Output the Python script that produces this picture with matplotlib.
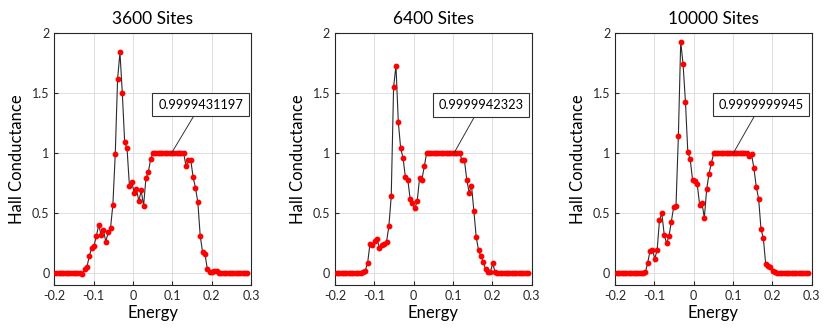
import numpy as np
import matplotlib
matplotlib.use("Agg")
import matplotlib.pyplot as plt

plt.rcParams['font.family'] = ['Lato', 'DejaVu Sans']

# energy grid shared by the three runs
energy = np.linspace(-0.195, 0.291, 82)

titles = ['3600 Sites', '6400 Sites', '10000 Sites']
labels = ['0.9999431197', '0.9999942323', '0.9999999945']

hall_3600 = [0] * 11 + [
    -0.005, 0.03, 0.05, 0.14, 0.21, 0.225, 0.31, 0.40, 0.32, 0.36,
    0.26, 0.34, 0.375, 0.57, 0.99, 1.62, 1.84, 1.5, 1.09, 1.04,
    0.73, 0.76, 0.67, 0.70, 0.60, 0.69, 0.56, 0.79, 0.84, 0.95,
] + [1.0] * 14 + [
    0.89, 0.94, 0.94, 0.80, 0.71, 0.59, 0.31, 0.175, 0.16, 0.036,
    0.01, 0.01, 0.017, 0.017,
] + [0] * 13

hall_6400 = [0] * 11 + [
    0.01, 0.02, 0.084, 0.245, 0.23, 0.27, 0.28, 0.21, 0.23, 0.245,
    0.26, 0.39, 0.64, 1.55, 1.73, 1.26, 1.04, 0.96, 0.80, 0.78,
    0.62, 0.58, 0.54, 0.60, 0.79, 0.78, 0.89,
] + [1.0] * 15 + [
    0.94, 0.94, 0.78, 0.67, 0.73, 0.52, 0.30, 0.19, 0.14, 0.09,
    0.03, 0.01, 0.01, 0.083, 0.005,
] + [0] * 14

hall_10000 = [0] * 12 + [
    0.005, 0.083, 0.186, 0.194, 0.12, 0.19, 0.44, 0.50, 0.32, 0.25,
    0.305, 0.425, 0.55, 0.56, 1.14, 1.93, 1.74, 1.43, 1.01, 0.95,
    0.78, 0.77, 0.74, 0.57, 0.585, 0.46, 0.70, 0.83, 0.92,
] + [1.0] * 15 + [
    0.98, 0.99, 0.875, 0.72, 0.62, 0.37, 0.29, 0.075, 0.06, 0.047,
    0.02, 0.008,
] + [0] * 14

series = [hall_3600, hall_6400, hall_10000]
tip_x = [0.098, 0.1025, 0.1007]   # where the data-tip points on the plateau
box_xy = [(0.172, 1.405), (0.171, 1.40), (0.171, 1.405)]

fig = plt.figure(figsize=(8.31, 3.33), dpi=100)
lefts = [0.0653, 0.4031, 0.7401]

for k in range(3):
    ax = fig.add_axes([lefts[k], 0.1441, 0.2367, 0.756])
    ax.plot(energy, series[k], color='#2b2b2b', linewidth=0.8,
            marker='o', markersize=3.2, markerfacecolor='red',
            markeredgecolor='red', zorder=3)
    ax.set_xlim(-0.2, 0.3)
    ax.set_ylim(-0.1, 2)
    ax.set_xticks([-0.2, -0.1, 0, 0.1, 0.2, 0.3])
    ax.set_xticklabels(['-0.2', '-0.1', '0', '0.1', '0.2', '0.3'])
    ax.set_yticks([0, 0.5, 1, 1.5, 2])
    ax.set_yticklabels(['0', '0.5', '1', '1.5', '2'])
    ax.tick_params(direction='in', length=3, labelsize=9,
                   colors='#262626', top=False, right=False)
    ax.grid(True, color='#dedede', linewidth=0.7)
    ax.set_axisbelow(True)
    for s in ax.spines.values():
        s.set_color('#262626')
        s.set_linewidth(0.8)
    ax.set_title(titles[k], fontsize=12.5, pad=7)
    ax.set_xlabel('Energy', fontsize=12, labelpad=2)
    ax.set_ylabel('Hall Conductance', fontsize=12, labelpad=5)
    ax.annotate(labels[k], xy=(tip_x[k], 1.0), xytext=box_xy[k],
                ha='center', va='center', fontsize=9.2,
                bbox=dict(boxstyle='square,pad=0.45', fc='white',
                          ec='#333333', lw=0.8),
                arrowprops=dict(arrowstyle='-', color='#333333', lw=0.7,
                                shrinkA=0, shrinkB=0),
                zorder=5)

fig.savefig('out.png', dpi=100)
